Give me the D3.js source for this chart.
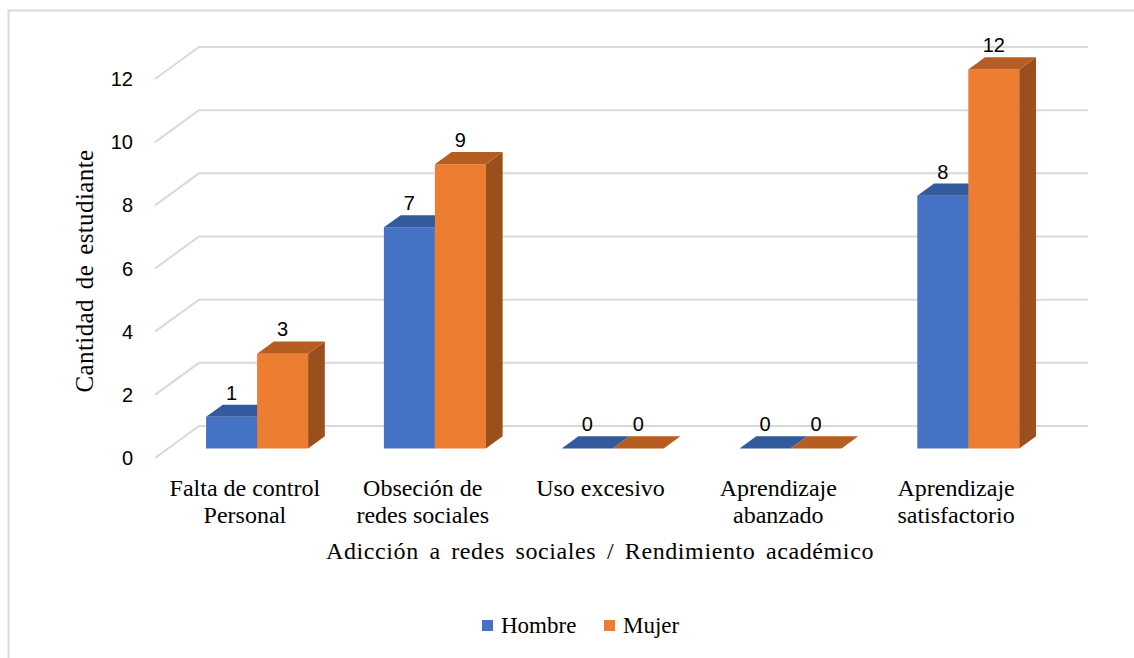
<!DOCTYPE html>
<html>
<head>
<meta charset="utf-8">
<script src="https://cdn.jsdelivr.net/npm/d3@7"></script>
<style>
  body { margin: 0; background: #fff; }
  svg { display: block; }
</style>
</head>
<body>
<svg width="1134" height="658"></svg>
<script>
const categories = [
  ['Falta de control', 'Personal'],
  ['Obseción de', 'redes sociales'],
  ['Uso excesivo'],
  ['Aprendizaje', 'abanzado'],
  ['Aprendizaje', 'satisfactorio']
]
const seriesNames = ['Hombre', 'Mujer']
const hombre = [1, 7, 0, 0, 8]
const mujer = [3, 9, 0, 0, 12]
const yTicks = [0, 2, 4, 6, 8, 10, 12]

const FRONT = ['#4472C4', '#ED7D31']
const TOP = ['#335A9C', '#B65E22']
const SIDE = ['#2D4F8C', '#9A4F1D']
const DX = 44, DY = -32        // depth of the floor
const D0 = 0.30, D1 = 0.68     // bars sit inside the depth

const svg = d3.select('svg')

// chart frame
svg.append('rect')
  .attr('x', 8.5).attr('y', 10.5)
  .attr('width', 1140).attr('height', 660)
  .style('fill', 'none').style('stroke', '#d9d9d9').style('stroke-width', 2)

const keys = categories.map(c => c.join(' '))
const x = d3.scaleBand().domain(keys).range([155, 1044])
const xs = d3.scaleBand().domain(seriesNames).range([-51, 51])
const y = d3.scaleLinear().domain([0, 12]).range([458, 79])

// project (x, value, depth) to screen
const P = (px, v, d) => [px + DX * d, y(v) + DY * d]

// gridlines
const grid = svg.append('g')
grid.selectAll('path').data(yTicks).enter().append('path')
  .attr('d', v => {
    const a = P(x.range()[0], v, 0), b = P(x.range()[0], v, 1)
    return `M${a}L${b}L${1088},${b[1]}`
  })
  .style('fill', 'none').style('stroke', '#d9d9d9').style('stroke-width', 2)

// y tick labels
svg.append('g').selectAll('text').data(yTicks).enter().append('text')
  .attr('x', 133).attr('y', v => y(v))
  .attr('dy', '0.35em')
  .attr('text-anchor', 'end')
  .style('font', '20px "Liberation Sans", Arial, sans-serif')
  .style('fill', '#000')
  .text(d => d)

// bars
const data = []
keys.forEach((k, i) => {
  [hombre[i], mujer[i]].forEach((v, s) => data.push({ k, s, v }))
})

const bars = svg.append('g').selectAll('g').data(data).enter().append('g')

bars.each(function(d) {
  const g = d3.select(this)
  const x0 = x(d.k) + x.bandwidth() / 2 + xs(seriesNames[d.s])
  const x1 = x0 + xs.bandwidth()
  const poly = pts => 'M' + pts.map(p => p.join(',')).join('L') + 'Z'
  if (d.v > 0) {
    g.append('path')
      .attr('d', poly([P(x0, 0, D0), P(x1, 0, D0), P(x1, d.v, D0), P(x0, d.v, D0)]))
      .style('fill', FRONT[d.s])
    g.append('path')
      .attr('d', poly([P(x1, 0, D0), P(x1, 0, D1), P(x1, d.v, D1), P(x1, d.v, D0)]))
      .style('fill', SIDE[d.s])
  }
  g.append('path')
    .attr('d', poly([P(x0, d.v, D0), P(x1, d.v, D0), P(x1, d.v, D1), P(x0, d.v, D1)]))
    .style('fill', TOP[d.s])
  g.append('text')
    .attr('x', P((x0 + x1) / 2, d.v, D0)[0])
    .attr('y', P(x0, d.v, D1)[1] - 5)
    .attr('text-anchor', 'middle')
    .style('font', '20px "Liberation Sans", Arial, sans-serif')
    .text(d.v)
})

// category labels
const serif = '"Liberation Serif", "Times New Roman", serif'
const cat = svg.append('g').selectAll('text').data(categories).enter().append('text')
  .attr('x', (c, i) => x(keys[i]) + x.bandwidth() / 2 + 1)
  .attr('y', 496)
  .attr('text-anchor', 'middle')
  .style('font', `24px ${serif}`)
cat.selectAll('tspan').data(c => c).enter().append('tspan')
  .attr('x', function() { return this.parentNode.getAttribute('x') })
  .attr('dy', (t, j) => j ? 27 : 0)
  .text(t => t)

// widen word gaps so a title spans the given length
function fitWords(sel, len) {
  const node = sel.node()
  const gaps = sel.text().split(' ').length - 1
  const extra = (len - node.getComputedTextLength()) / gaps
  if (extra > 0) sel.style('word-spacing', extra + 'px')
}

// axis titles
svg.append('text')
  .attr('x', 600).attr('y', 559)
  .attr('text-anchor', 'middle')
  .style('font', `24px ${serif}`)
  .style('letter-spacing', '0.6px')
  .text('Adicción a redes sociales / Rendimiento académico')
  .call(fitWords, 548)

svg.append('text')
  .attr('transform', 'translate(93,271) rotate(-90)')
  .attr('text-anchor', 'middle')
  .style('font', `25px ${serif}`)
  .style('letter-spacing', '0.4px')
  .text('Cantidad de estudiante')
  .call(fitWords, 243)

// legend
const legend = svg.append('g').selectAll('g').data(seriesNames).enter().append('g')
  .attr('transform', (d, i) => `translate(${[482, 604][i]},620)`)
legend.append('rect')
  .attr('width', 11).attr('height', 11)
  .style('fill', (d, i) => FRONT[i])
legend.append('text')
  .attr('x', 19).attr('y', 13)
  .style('font', `23px ${serif}`)
  .text(d => d)
</script>
</body>
</html>
